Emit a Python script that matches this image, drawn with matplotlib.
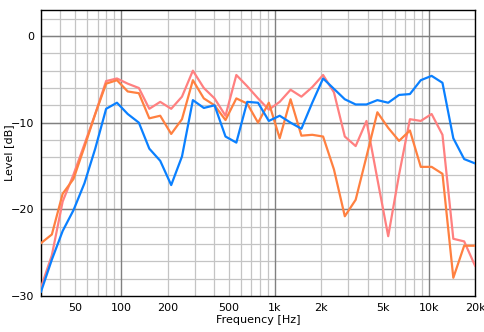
from matplotlib import pyplot as plt
from matplotlib.ticker import FixedLocator, NullFormatter
import numpy as np

freq = [30, 35.3, 41.5, 48.8, 57.5, 67.6, 79.6, 93.6, 110, 130,
        152, 179, 211, 248, 292, 344, 404, 476, 560, 659,
        775, 911, 1072, 1262, 1484, 1746, 2054, 2417, 2844, 3346,
        3936, 4632, 5449, 6411, 7543, 8875, 10441, 12284, 14453, 17004,
        20004]

level_blue = [-29.5, -25.8, -22.5, -20.1, -17.0, -13.0, -8.4, -7.7, -9.0, -10.0,
              -13.0, -14.4, -17.2, -13.9, -7.4, -8.3, -8.0, -11.6, -12.3, -7.6,
              -7.7, -9.8, -9.2, -10.0, -10.7, -7.7, -4.9, -6.1, -7.3, -7.9,
              -7.9, -7.4, -7.7, -6.8, -6.7, -5.1, -4.6, -5.4, -11.8, -14.2,
              -14.7]

level_orange = [-23.9, -22.9, -18.2, -16.5, -12.8, -9.0, -5.5, -5.1, -6.4, -6.6,
                -9.5, -9.2, -11.3, -9.6, -5.1, -7.2, -8.0, -9.7, -7.2, -7.8,
                -10.0, -7.7, -11.8, -7.3, -11.5, -11.4, -11.6, -15.4, -20.8, -18.9,
                -13.9, -8.8, -10.6, -12.1, -10.9, -15.1, -15.1, -15.9, -27.9, -24.2,
                -24.2]

level_pink = [-29.0, -25.3, -19.1, -16.0, -12.5, -9.0, -5.2, -4.9, -5.5, -6.0,
              -8.4, -7.6, -8.4, -7.0, -4.0, -6.0, -7.2, -9.2, -4.5, -5.8,
              -7.2, -8.5, -7.6, -6.2, -7.0, -5.9, -4.5, -6.5, -11.6, -12.7,
              -9.8, -16.5, -23.1, -16.0, -9.6, -9.8, -9.0, -11.4, -23.4, -23.7,
              -26.5]

xtick_vals = [50, 100, 200, 500, 1000, 2000, 5000, 10000, 20000]
xtick_labels = ['50', '100', '200', '500', '1k', '2k', '5k', '10k', '20k']
ytick_vals = [0, -10, -20, -30]

fig = plt.figure(figsize=(4.84, 3.32), dpi=100)
ax = fig.add_axes([41/484, 1-296/332, 434/484, 286/332])

ax.plot(freq, level_blue, color='#0a80ff', lw=1.6, zorder=5)
ax.plot(freq, level_orange, color='#ff8040', lw=1.6, zorder=4)
ax.plot(freq, level_pink, color='#ff8080', lw=1.6, zorder=3)

ax.set_xscale('log')
ax.set_xlim(30, 20000)
ax.set_ylim(-30, 3)

# grid: light minor lines, darker decade / 10 dB lines
minor_x = [f*d for d in (10, 100, 1000) for f in range(2, 10)] + [30, 40, 50, 60, 70, 80, 90, 20000]
minor_x = sorted(set(v for v in minor_x if 30 <= v <= 20000))
for v in minor_x:
    ax.axvline(v, color='#c4c4c4', lw=0.9, zorder=1)
for v in (100, 1000, 10000):
    ax.axvline(v, color='#808080', lw=1.0, zorder=2)
for v in np.arange(-28, 3, 2):
    ax.axhline(v, color='#c4c4c4', lw=0.9, zorder=1)
for v in (0, -10, -20):
    ax.axhline(v, color='#808080', lw=1.0, zorder=2)

ax.xaxis.set_major_locator(FixedLocator(xtick_vals))
ax.xaxis.set_minor_locator(FixedLocator([]))
ax.xaxis.set_minor_formatter(NullFormatter())
ax.set_xticks(xtick_vals)
ax.set_xticklabels(xtick_labels)
ax.set_yticks(ytick_vals)
ax.tick_params(length=0, labelsize=8, pad=5)

for s in ax.spines.values():
    s.set_color('black')
    s.set_linewidth(1.0)

ax.set_xlabel('Frequency [Hz]', fontsize=8)
ax.set_ylabel('Level [dB]', fontsize=8)
ax.xaxis.set_label_coords(0.5, -0.068)
ax.yaxis.set_label_coords(-0.062, 0.5)

plt.savefig('out.png', dpi=100)
